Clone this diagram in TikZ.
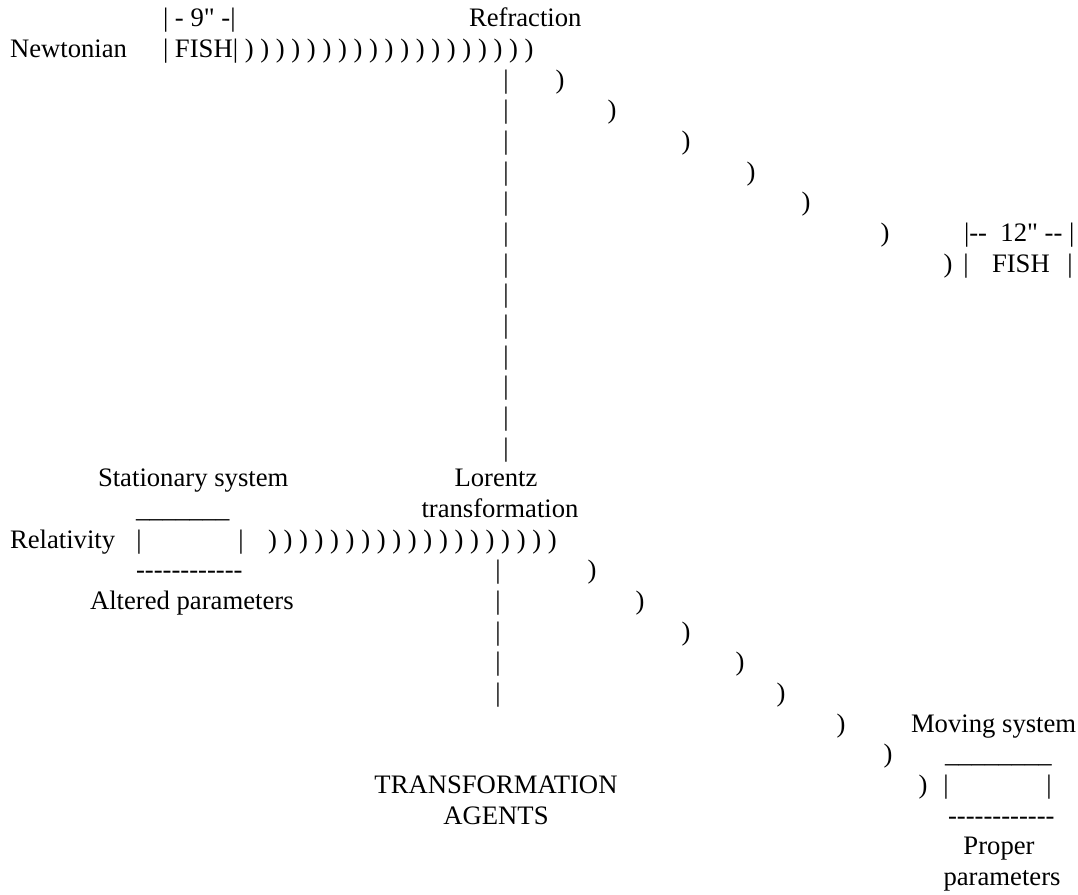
\documentclass[tikz,border=0pt]{standalone}
\usepackage{fontspec}
\newfontfamily\tnr{Liberation Serif}
\newcommand\dsh{-\kern0pt}
\newcommand\parenrow{) ) ) ) ) ) ) ) ) ) ) ) ) ) ) ) ) ) )}
\newcommand\twelvedash{\dsh\dsh\dsh\dsh\dsh\dsh\dsh\dsh\dsh\dsh\dsh-}
\tikzset{
  txtbase/.style={inner sep=0pt, outer sep=0pt, font=\tnr\fontsize{26.67pt}{30.67pt}\selectfont},
  lt/.style={txtbase, anchor=base west},
  ct/.style={txtbase, anchor=base},
}
\begin{document}
\begin{tikzpicture}[x=1pt, y=-1pt]
\fill[white] (0,0) rectangle (1078,894);
\useasboundingbox (0,0) rectangle (1078,894);
% ---------- Newtonian part ----------
\node[lt] (nine) at (163,26.8) {| - 9" -|};
\node[lt] (refr) at (469,26.8) {Refraction};
\node[lt] (newt) at (10,57.5) {Newtonian};
\node[lt] (fishA) at (163,57.5) {| FISH| \parenrow};
\foreach \n in {1,...,13}
  \node[ct] (tb\n) at (506,{57.5+30.67*\n}) {|};
\foreach \xx [count=\n] in {560,612,686,751,806,885,948}
  \node[ct] (tp\n) at (\xx,{57.5+30.67*\n}) {)};
\node[lt] (twelve) at (964,241.5) {|\dsh-\ \ 12" \dsh-\ |};
\node[ct] (fbL) at (966,272.2) {|};
\node[lt] (fishB) at (992,272.2) {FISH};
\node[ct] (fbR) at (1070,272.2) {|};
% ---------- Relativity part ----------
\node[lt] (stat) at (98,486.9) {Stationary system};
\node[ct] (lor) at (496,486.9) {Lorentz};
\node[ct] (trf) at (500,517.6) {transformation};
\node[lt] (ulA) at (136,517.6) {\_\_\_\_\_\_\_};
\node[lt] (rel) at (10,548.2) {Relativity};
\node[ct] (bxL) at (139,548.2) {|};
\node[ct] (bxR) at (241,548.2) {|};
\node[lt] (parB) at (268,548.2) {\parenrow};
\node[lt] (dsA) at (136,578.9) {\twelvedash};
\node[lt] (alt) at (90,609.6) {Altered parameters};
\foreach \n in {17,...,21}
  \node[ct] (bb\n) at (498,{57.5+30.67*\n}) {|};
\foreach \xx [count=\k] in {592,640,686,740,781,841,888,923}
  \node[ct] (bp\k) at (\xx,{57.5+30.67*(\k+16)}) {)};
\node[lt] (mov) at (911,732.2) {Moving system};
\node[lt] (ulB) at (945,762.9) {\_\_\_\_\_\_\_\_};
\node[ct] (mbL) at (946,793.6) {|};
\node[ct] (mbR) at (1049,793.6) {|};
\node[lt] (dsB) at (948,824.3) {\twelvedash};
\node[ct] (prop) at (999,854.9) {Proper};
\node[ct] (ppar) at (1002,885.6) {parameters};
\node[ct] (agA) at (496,793.6) {TRANSFORMATION};
\node[ct] (agB) at (496,824.3) {AGENTS};
\end{tikzpicture}
\end{document}
